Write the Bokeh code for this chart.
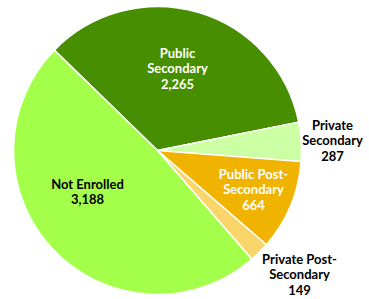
import math
from bokeh.plotting import figure
from bokeh.models import Range1d, ColumnDataSource
from bokeh.core.properties import value
from bokeh.embed import file_html
from bokeh.resources import INLINE

categories = ["Public Secondary", "Private Secondary", "Public Post-Secondary",
              "Private Post-Secondary", "Not Enrolled"]
counts = [2265, 287, 664, 149, 3188]
labels = ["Public\nSecondary\n2,265", "Private\nSecondary\n287", "Public Post-\nSecondary\n664",
          "Private Post-\nSecondary\n149", "Not Enrolled\n3,188"]
colors = ["#478E00", "#CCFFA3", "#F0B400", "#F9D56A", "#A4FF4A"]
text_colors = ["white", "black", "white", "black", "black"]

W, H = 369, 299
CX, CY, R = 157, H - 150, 144
start_deg = 135.8

total = sum(counts)
starts, ends = [], []
a = math.radians(start_deg)
for c in counts:
    sweep = 2 * math.pi * c / total
    starts.append(a - sweep)
    ends.append(a)
    a -= sweep

src = ColumnDataSource(dict(start=starts, end=ends, color=colors))

p = figure(width=W, height=H, output_backend="svg", toolbar_location=None,
           x_range=Range1d(0, W), y_range=Range1d(0, H), min_border=0)
p.axis.visible = False
p.grid.visible = False
p.outline_line_color = None
p.background_fill_color = "white"

p.wedge(x=CX, y=CY, radius=R, start_angle="start", end_angle="end", source=src,
        fill_color="color", line_color="white", line_width=1.5)

# label layout (pixel offsets from pie centre: dx right, dy up)
label_dx = [20, 175, 96, 142, -70]
label_dy = [82, 10, -39, -124, -41]
lsrc = ColumnDataSource(dict(x=[CX + d for d in label_dx], y=[CY + d for d in label_dy],
                             t=labels, c=text_colors))
p.text(x="x", y="y", text="t", text_color="c", source=lsrc, text_align="center",
       text_baseline="middle", text_font=value("Lato"), text_font_size="13px",
       text_font_style="bold", text_line_height=0.98)

open("out.html", "w").write(file_html(p, INLINE))
